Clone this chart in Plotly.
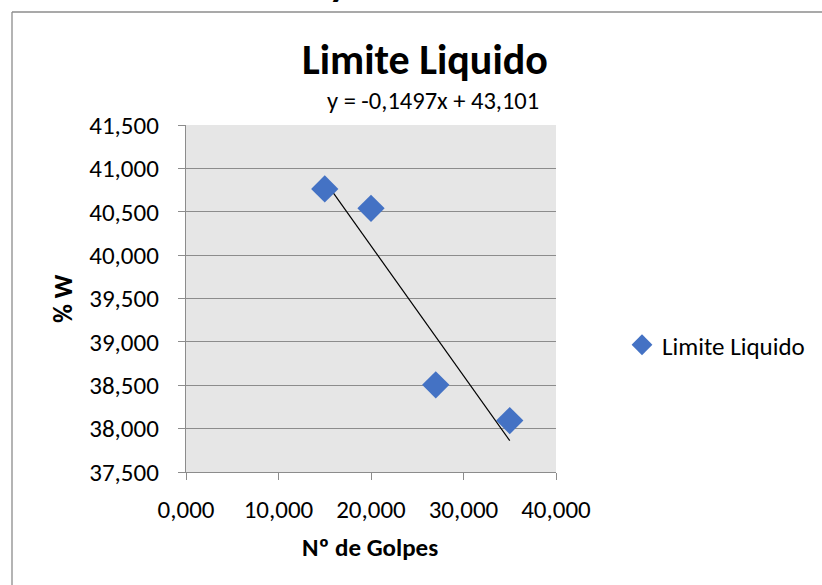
import plotly.graph_objects as go

# ---- data ----
golpes = [15, 20, 27, 35]
humedad = [40.763, 40.540, 38.505, 38.093]
series_name = "Limite Liquido"
trend_slope = -0.1497
trend_intercept = 43.101
equation_text = "y = -0,1497x + 43,101"
x_ticks = [0, 10, 20, 30, 40]
y_ticks = [37.5, 38.0, 38.5, 39.0, 39.5, 40.0, 40.5, 41.0, 41.5]

FONT = "Carlito, Lato, sans-serif"
W, H = 822, 585
L, R, T, B = 186, 556, 125, 472  # plot area in pixels


def px_x(p):
    return (p - L) / (R - L)


def px_y(p):
    return (B - p) / (B - T)


trend_x = [min(golpes), max(golpes)]
trend_y = [trend_slope * v + trend_intercept for v in trend_x]

fig = go.Figure()
fig.add_trace(go.Scatter(
    x=trend_x, y=trend_y, mode="lines",
    line=dict(color="black", width=1.2),
    showlegend=False, hoverinfo="skip",
))
fig.add_trace(go.Scatter(
    x=golpes, y=humedad, mode="markers", name=series_name,
    marker=dict(symbol="diamond", size=21, color="#4472C4"),
))

fig.update_layout(
    width=W, height=H,
    margin=dict(l=L, r=W - R, t=T, b=H - B, pad=0),
    paper_bgcolor="white",
    plot_bgcolor="#E6E6E6",
    separators=",.",
    font=dict(family=FONT, size=25, color="black"),
    showlegend=True,
    legend=dict(
        x=px_x(622), y=px_y(345), xanchor="left", yanchor="middle",
        font=dict(size=25), bgcolor="rgba(0,0,0,0)",
    ),
    annotations=[
        dict(text="<b>Limite Liquido</b>", x=px_x(425), y=px_y(59),
             xref="paper", yref="paper", showarrow=False,
             xanchor="center", yanchor="middle", font=dict(size=42)),
        dict(text=equation_text, x=px_x(433), y=px_y(101),
             xref="paper", yref="paper", showarrow=False,
             xanchor="center", yanchor="middle", font=dict(size=24.5)),
        dict(text="<b>Nº de Golpes</b>", x=px_x(370), y=px_y(547),
             xref="paper", yref="paper", showarrow=False,
             xanchor="center", yanchor="middle", font=dict(size=25)),
        dict(text="<b>% W</b>", x=px_x(63), y=px_y(299), textangle=-90,
             xref="paper", yref="paper", showarrow=False,
             xanchor="center", yanchor="middle", font=dict(size=26)),
        dict(text="<b>y</b>", x=px_x(338), y=px_y(9),
             xref="paper", yref="paper", showarrow=False,
             xanchor="center", yanchor="bottom", font=dict(size=40)),
    ],
    shapes=[
        dict(type="line", xref="paper", yref="paper",
             x0=px_x(12), x1=px_x(830), y0=px_y(12), y1=px_y(12),
             line=dict(color="#8C8C8C", width=1.3)),
        dict(type="line", xref="paper", yref="paper",
             x0=px_x(12), x1=px_x(12), y0=px_y(12), y1=px_y(600),
             line=dict(color="#8C8C8C", width=1.3)),
    ],
)

fig.update_xaxes(
    range=[0, 40], tickvals=x_ticks, tickformat=".3f",
    showgrid=False, zeroline=False,
    showline=True, linecolor="#8C8C8C", linewidth=1.3,
    ticks="outside", ticklen=7, tickcolor="#8C8C8C", tickwidth=1.3,
    tickfont=dict(size=25), ticklabelstandoff=8,
)
fig.update_yaxes(
    range=[37.5, 41.5], tickvals=y_ticks, tickformat=".3f",
    showgrid=True, gridcolor="#8C8C8C", gridwidth=1.3, zeroline=False,
    showline=True, linecolor="#8C8C8C", linewidth=1.3,
    ticks="outside", ticklen=7, tickcolor="#8C8C8C", tickwidth=1.3,
    tickfont=dict(size=25), ticklabelstandoff=14,
)

fig.write_html(
    "out.html",
    config={"displayModeBar": False},
    post_script="document.body.style.margin='0';document.body.style.overflow='hidden';",
)
